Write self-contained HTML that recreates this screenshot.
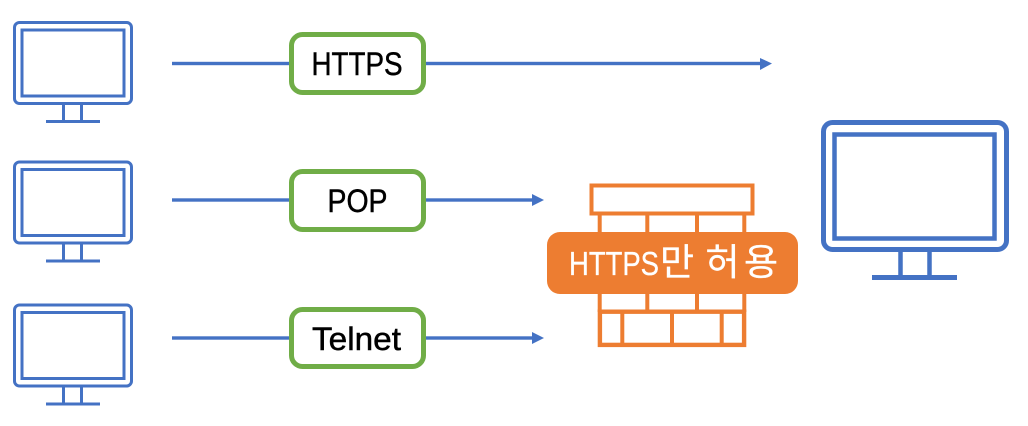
<!DOCTYPE html>
<html lang="ko">
<head>
<meta charset="utf-8">
<style>
html,body{margin:0;padding:0;background:#fff;width:1028px;height:426px;overflow:hidden}
svg{display:block}
text{font-family:"Liberation Sans","Noto Sans CJK KR",sans-serif}
</style>
</head>
<body>
<svg width="1028" height="426" viewBox="0 0 1028 426" xmlns="http://www.w3.org/2000/svg">
<defs>
<g id="pc" fill="none" stroke="#4472C4" stroke-width="3">
<rect x="14.500" y="22.500" width="117" height="81" rx="5"/>
<rect x="22" y="30" width="102" height="66"/>
<path d="M63.500 104V120M81.500 104V120"/>
<path d="M46 121.500H100"/>
</g>
</defs>
<rect width="1028" height="426" fill="#fff"/>

<use href="#pc"/>
<use href="#pc" y="139.500"/>
<use href="#pc" y="282.500"/>

<g fill="none" stroke="#4472C4" stroke-width="5">
<rect x="823.500" y="122.500" width="183" height="127" rx="9"/>
</g>
<g fill="none" stroke="#4472C4" stroke-width="4.500">
<rect x="834.500" y="134.500" width="160" height="104"/>
<path d="M900.500 252V275M929.500 252V275"/>
</g>
<rect x="872" y="275" width="85" height="5" fill="#4472C4"/>

<g fill="#4472C4">
<rect x="172" y="61.800" width="590" height="3.400"/>
<path d="M760 58L772 63.500L760 70Z"/>
<rect x="172" y="198.300" width="362" height="3.400"/>
<path d="M532 194L544 200L532 206Z"/>
<rect x="172" y="336.300" width="362" height="3.400"/>
<path d="M532 332L544 338L532 344Z"/>
</g>

<g fill="#fff" stroke="#70AD47" stroke-width="5">
<rect x="291.500" y="34.500" width="132" height="58" rx="11"/>
<rect x="291.500" y="171.500" width="132" height="58" rx="11"/>
<rect x="291.500" y="309.500" width="132" height="57" rx="11"/>
</g>
<g fill="#000" font-size="32" stroke="#000" stroke-width="0.450">
<text x="311.500" y="75" textLength="91" lengthAdjust="spacingAndGlyphs">HTTPS</text>
<text x="327.500" y="212" textLength="60" lengthAdjust="spacingAndGlyphs">POP</text>
<text x="312" y="350" textLength="89" lengthAdjust="spacingAndGlyphs">Telnet</text>
</g>

<g fill="none" stroke="#ED7D31" stroke-width="4">
<rect x="591.500" y="185.500" width="161" height="28"/>
<path d="M599.700 215V312M647.300 215V312M697 215V312M744.300 215V312"/>
<path d="M622.300 312V344M672 312V344M721.700 312V344"/>
</g>
<rect x="599.900" y="311.700" width="144.200" height="33.200" fill="none" stroke="#ED7D31" stroke-width="4.400"/>
<rect x="547" y="232" width="251" height="62" rx="13" fill="#ED7D31"/>
<text y="275" font-size="33" fill="#fff" stroke="#fff" stroke-width="0.300"><tspan x="569" textLength="90" lengthAdjust="spacingAndGlyphs">HTTPS</tspan><tspan x="660" font-size="37">만</tspan> <tspan x="705.500 744" font-size="37">허용</tspan></text>
</svg>
</body>
</html>
